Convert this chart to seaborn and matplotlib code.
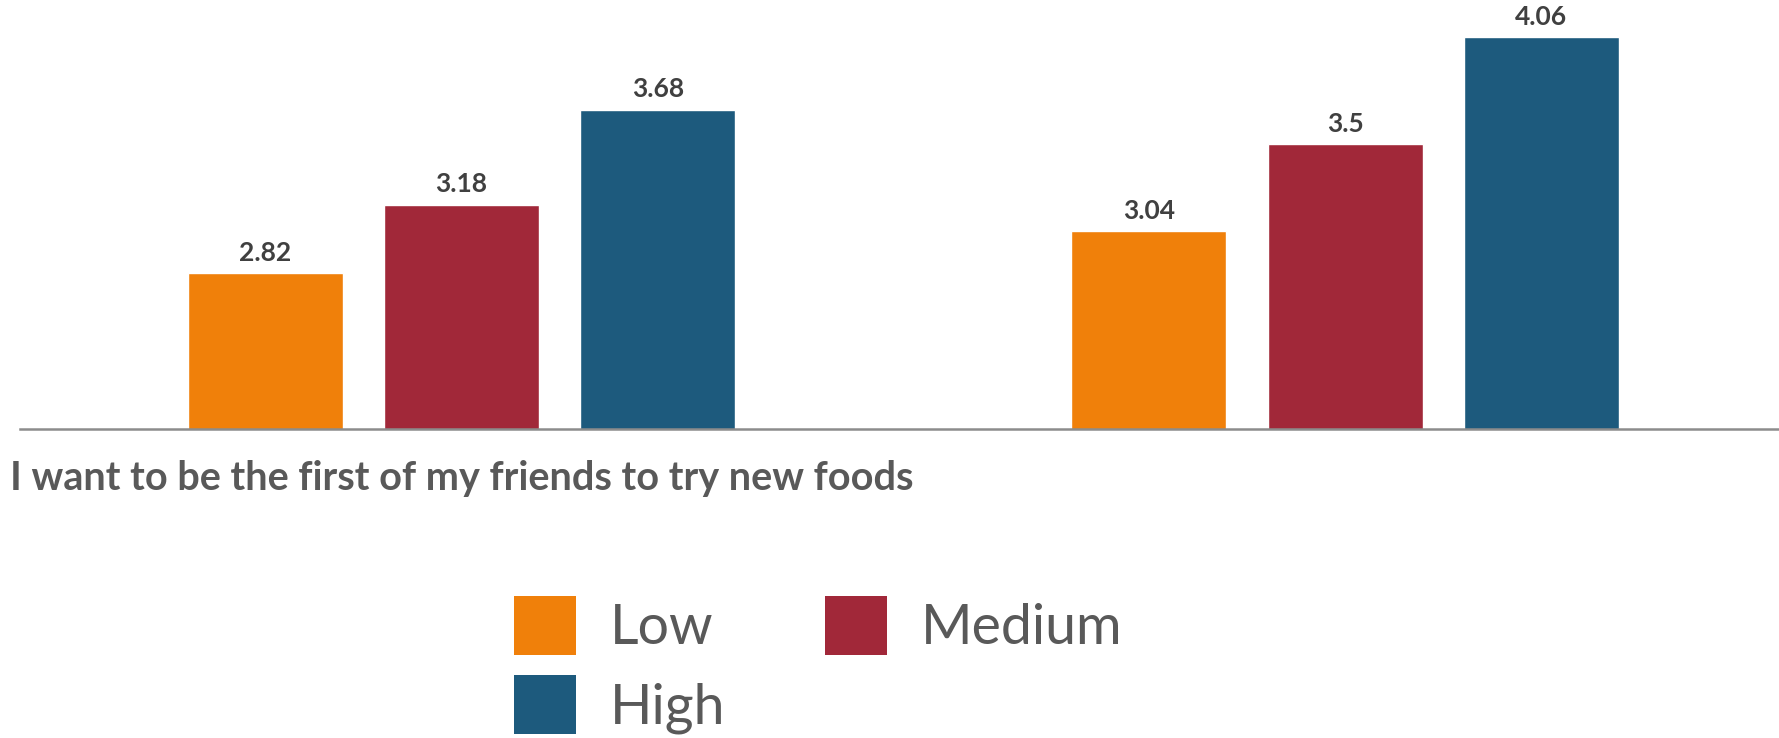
import numpy as np
import pandas as pd
import seaborn as sns
import matplotlib.pyplot as plt
from matplotlib.patches import Patch

statements = ["I want to be the first of my friends to try new foods", " "]
levels = ["Low", "Medium", "High"]
low_scores = [2.82, 3.04]
medium_scores = [3.18, 3.5]
high_scores = [3.68, 4.06]
level_colors = ["#F0800A", "#A12839", "#1D5A7D"]

rows = []
for i, s in enumerate(statements):
    for lvl, vals in zip(levels, [low_scores, medium_scores, high_scores]):
        rows.append({"statement": s, "level": lvl, "score": vals[i]})
df = pd.DataFrame(rows)

sns.set_theme(style="white")
plt.rcParams["font.family"] = ["Lato", "DejaVu Sans"]

fig = plt.figure(figsize=(17.79, 7.38), dpi=100)
ax = fig.add_axes([0.0111, 0.4187, 0.9933, 0.5813])

sns.barplot(
    data=df, x="statement", y="score", hue="level",
    order=statements, hue_order=levels, palette=level_colors,
    width=0.666, gap=0.21, errorbar=None, legend=False,
    saturation=1, ax=ax
)

for c in ax.containers:
    ax.bar_label(c, fmt="%g", padding=6, fontsize=19, fontweight="bold", color="#404040")

ax.set_xlim(-0.5, 1.5)
ax.set_ylim(2, 4.257)
ax.set_yticks([])
ax.set_xlabel("")
ax.set_ylabel("")
for side in ["top", "left", "right"]:
    ax.spines[side].set_visible(False)
ax.spines["bottom"].set_color("#8C8C8C")
ax.spines["bottom"].set_linewidth(1.8)
ax.tick_params(axis="x", length=0, pad=22, labelsize=28.5, labelcolor="#595959")
for lbl in ax.get_xticklabels():
    lbl.set_fontweight("bold")

# legend fills column-wise, so order to get Low, Medium / High row-wise
patches = {lvl: Patch(facecolor=c, edgecolor="none") for lvl, c in zip(levels, level_colors)}
leg_order = ["Low", "High", "Medium"]
fig.legend(
    [patches[l] for l in leg_order], leg_order, loc="upper left",
    bbox_to_anchor=(514 / 1779, 1 - 596 / 738),
    ncol=2, frameon=False, fontsize=40, labelcolor="#595959",
    handlelength=1.12, handleheight=1.26, handletextpad=0.6,
    columnspacing=1.8, labelspacing=0.36, borderpad=0, borderaxespad=0
)

fig.savefig("out.png", dpi=100)
